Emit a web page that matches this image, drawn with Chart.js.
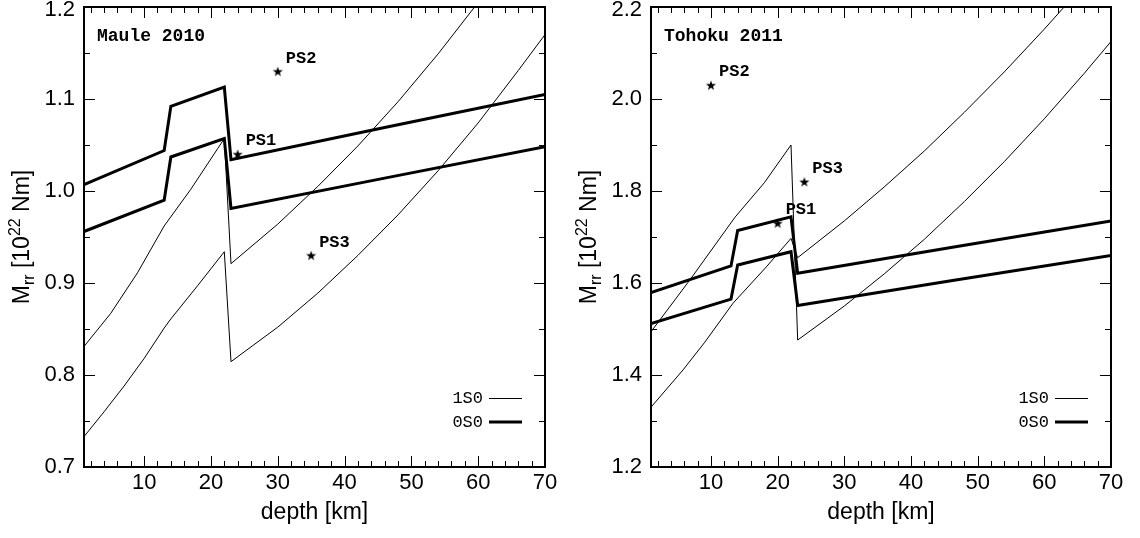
<!DOCTYPE html>
<html>
<head>
<meta charset="utf-8">
<script src="https://cdn.jsdelivr.net/npm/chart.js@4.4.1/dist/chart.umd.min.js"></script>
<style>
html, body { margin: 0; padding: 0; background: #fff; }
#conteneur { display: flex; width: 1140px; height: 538px; }
canvas { display: block; }
</style>
</head>
<body>
<div id="conteneur">
<canvas id="maule" width="570" height="538"></canvas>
<canvas id="tohoku" width="570" height="538"></canvas>
</div>
<script>
// Valeurs (profondeur en km, moment Mrr en 10^22 Nm)

// ---- Maule 2010 ----
const mauleProf1S0Haut = [1, 5, 9, 13, 17, 21, 22, 23, 30, 36, 42, 48, 54, 60, 62];
const mauleVal1S0Haut = [0.831, 0.867, 0.911, 0.962, 1.002, 1.046, 1.057, 0.921, 0.964, 1.005, 1.049, 1.097, 1.149, 1.205, 1.224];
const mauleProf1S0Bas = [1, 4, 7, 10, 13, 14, 18, 22, 23, 30, 36, 42, 48, 54, 60, 66, 70];
const mauleVal1S0Bas = [0.733, 0.760, 0.788, 0.818, 0.851, 0.861, 0.897, 0.934, 0.8145, 0.852, 0.889, 0.930, 0.974, 1.022, 1.074, 1.131, 1.170];
const mauleProf0S0Haut = [1, 13, 14, 22, 23, 46, 70];
const mauleVal0S0Haut = [1.007, 1.044, 1.092, 1.113, 1.034, 1.069, 1.105];
const mauleProf0S0Bas = [1, 13, 14, 22, 23, 46, 70];
const mauleVal0S0Bas = [0.956, 0.990, 1.037, 1.057, 0.981, 1.014, 1.048];
const mauleEtoilesProf = [24, 30, 35];
const mauleEtoilesVal = [1.04, 1.13, 0.93];
const mauleEtoilesNom = ['PS1', 'PS2', 'PS3'];

// ---- Tohoku 2011 ----
const tohokuProf1S0Haut = [1, 7, 13.6, 18, 22, 23, 30, 36, 42, 48, 54, 60, 66, 70];
const tohokuVal1S0Haut = [1.494, 1.610, 1.743, 1.818, 1.900, 1.476, 1.550, 1.620, 1.695, 1.777, 1.864, 1.957, 2.056, 2.125];
const tohokuProf1S0Bas = [1, 5.8, 9, 13.3, 18.3, 22, 23, 30, 36, 42, 48, 54, 60, 66];
const tohokuVal1S0Bas = [1.330, 1.411, 1.470, 1.556, 1.635, 1.697, 1.655, 1.735, 1.809, 1.887, 1.971, 2.059, 2.152, 2.249];
const tohokuProf0S0Haut = [1, 13, 14, 22, 23, 46, 70];
const tohokuVal0S0Haut = [1.579, 1.637, 1.714, 1.744, 1.621, 1.677, 1.735];
const tohokuProf0S0Bas = [1, 13, 14, 22, 23, 46, 70];
const tohokuVal0S0Bas = [1.512, 1.565, 1.639, 1.668, 1.551, 1.605, 1.660];
const tohokuEtoilesProf = [20, 10, 24];
const tohokuEtoilesVal = [1.73, 2.03, 1.82];
const tohokuEtoilesNom = ['PS1', 'PS2', 'PS3'];

// Graduations
const graduationsX = [10, 20, 30, 40, 50, 60, 70];
const graduationsMauleY = [0.7, 0.8, 0.9, 1.0, 1.1, 1.2];
const graduationsTohokuY = [1.2, 1.4, 1.6, 1.8, 2.0, 2.2];
const legendeNoms = ['1S0', '0S0'];

const POLICE = '"Liberation Sans", Arial, sans-serif';
const MONO = '"Liberation Mono", "Courier New", monospace';


function creerEtoile() {
    /**
     * Dessine une étoile pleine à 5 branches dans un petit canvas (utilisé comme pointStyle)
     */
    const c = document.createElement('canvas');
    c.width = 12;
    c.height = 12;
    const g = c.getContext('2d');
    const R = 5.3, r = 2.1;
    g.beginPath();
    for (let i = 0; i < 10; i++) {
        const rayon = i % 2 === 0 ? R : r;
        const angle = -Math.PI / 2 + i * Math.PI / 5;
        g.lineTo(6 + rayon * Math.cos(angle), 6.5 + rayon * Math.sin(angle));
    }
    g.closePath();
    g.fillStyle = '#000';
    g.fill();
    return c;
}

const etoile = creerEtoile();


function serie(prof, val, epaisseur) {
    return {
        data: prof.map((d, i) => ({ x: d, y: val[i] })),
        borderColor: '#000',
        borderWidth: epaisseur,
        borderJoinStyle: 'miter',
        pointRadius: 0,
        tension: 0,
        fill: false,
        clip: 0,
    };
}


// Cadre, graduations intérieures, textes et légende
const habillage = {
    id: 'habillage',
    afterDatasetsDraw(chart, args, opts) {
        const { ctx, chartArea: a, scales } = chart;
        const sx = scales.x, sy = scales.y;
        ctx.save();
        ctx.strokeStyle = '#000';
        ctx.fillStyle = '#000';

        // graduations en x (mineures tous les 2 km)
        ctx.lineWidth = 1;
        ctx.beginPath();
        for (let d = 2; d < 70; d += 2) {
            const px = Math.round(sx.getPixelForValue(d)) + 0.5;
            const l = d % 10 === 0 ? 11 : 6;
            ctx.moveTo(px, a.bottom); ctx.lineTo(px, a.bottom - l);
            ctx.moveTo(px, a.top); ctx.lineTo(px, a.top + l);
        }
        // graduations en y
        const n = Math.round((sy.max - sy.min) / opts.pasMineur);
        for (let i = 1; i < n; i++) {
            const py = Math.round(sy.getPixelForValue(sy.min + i * opts.pasMineur)) + 0.5;
            const l = i % 2 === 0 ? 11 : 6;
            ctx.moveTo(a.left, py); ctx.lineTo(a.left + l, py);
            ctx.moveTo(a.right, py); ctx.lineTo(a.right - l, py);
        }
        ctx.stroke();

        // cadre
        ctx.lineWidth = 2;
        ctx.strokeRect(a.left, a.top, a.right - a.left, a.bottom - a.top);

        // étiquettes des graduations
        ctx.font = '22px ' + POLICE;
        ctx.textBaseline = 'middle';
        ctx.textAlign = 'right';
        opts.graduationsY.forEach(v => {
            const py = Math.max(sy.getPixelForValue(v), 10);
            ctx.fillText(v.toFixed(1), a.left - 9, py);
        });
        ctx.textAlign = 'center';
        graduationsX.forEach(v => {
            ctx.fillText(String(v), sx.getPixelForValue(v), a.bottom + 16);
        });

        // titre de l'axe x
        ctx.font = '23px ' + POLICE;
        ctx.fillText('depth [km]', (a.left + a.right) / 2, 513);

        // titre de l'axe y : M_rr [10^22 Nm]
        ctx.save();
        ctx.translate(a.left - 63, (a.top + a.bottom) / 2);
        ctx.rotate(-Math.PI / 2);
        const morceaux = [
            { t: 'M', f: '23px ', dy: 0 },
            { t: 'rr', f: '16px ', dy: 5 },
            { t: ' [10', f: '23px ', dy: 0 },
            { t: '22', f: '16px ', dy: -9 },
            { t: ' Nm]', f: '23px ', dy: 0 },
        ];
        let total = 0;
        morceaux.forEach(m => { ctx.font = m.f + POLICE; m.w = ctx.measureText(m.t).width; total += m.w; });
        let cx = -total / 2;
        ctx.textAlign = 'left';
        ctx.textBaseline = 'alphabetic';
        morceaux.forEach(m => {
            ctx.font = m.f + POLICE;
            ctx.fillText(m.t, cx, 8 + m.dy);
            cx += m.w;
        });
        ctx.restore();

        // nom du séisme
        ctx.textAlign = 'left';
        ctx.textBaseline = 'middle';
        ctx.font = 'bold 18px ' + MONO;
        ctx.fillText(opts.titre, a.left + 13, 36);

        // noms des étoiles
        ctx.font = 'bold 17px ' + MONO;
        opts.etoilesNom.forEach((nom, i) => {
            const px = sx.getPixelForValue(opts.etoilesProf[i]);
            const py = sy.getPixelForValue(opts.etoilesVal[i]);
            ctx.fillText(nom, px + 8, py - 13);
        });

        // légende
        ctx.font = '17px ' + MONO;
        ctx.textAlign = 'right';
        legendeNoms.forEach((nom, i) => {
            const py = a.bottom - 69 + i * 24;
            ctx.fillText(nom, a.right - 62, py);
            ctx.lineWidth = i === 0 ? 1 : 3;
            ctx.beginPath();
            ctx.moveTo(a.right - 56, py + (i === 0 ? 0.5 : 0));
            ctx.lineTo(a.right - 23, py + (i === 0 ? 0.5 : 0));
            ctx.stroke();
        });
        ctx.restore();
    },
};


function creerGraphique(id, courbes, etoiles, yMin, yMax, options, padding) {
    /**
     * @param {string} id - identifiant du canvas
     * @param {object[]} courbes - jeux de données des courbes 1S0 et 0S0
     * @param {object} etoiles - points PS1, PS2, PS3
     */
    new Chart(document.getElementById(id), {
        type: 'line',
        data: {
            datasets: [
                ...courbes,
                {
                    data: etoiles.prof.map((d, i) => ({ x: d, y: etoiles.val[i] })),
                    showLine: false,
                    pointStyle: etoile,
                    pointRadius: 6,
                    clip: false,
                },
            ],
        },
        options: {
            responsive: false,
            animation: false,
            devicePixelRatio: 1,
            layout: { padding: padding },
            scales: {
                x: { type: 'linear', min: 1, max: 70, display: false },
                y: { type: 'linear', min: yMin, max: yMax, display: false },
            },
            plugins: {
                legend: { display: false },
                tooltip: { enabled: false },
                habillage: options,
            },
        },
        plugins: [habillage],
    });
}


creerGraphique('maule', [
    serie(mauleProf1S0Haut, mauleVal1S0Haut, 1),
    serie(mauleProf1S0Bas, mauleVal1S0Bas, 1),
    serie(mauleProf0S0Haut, mauleVal0S0Haut, 3),
    serie(mauleProf0S0Bas, mauleVal0S0Bas, 3),
], { prof: mauleEtoilesProf, val: mauleEtoilesVal }, 0.7, 1.2, {
    titre: 'Maule 2010',
    pasMineur: 0.05,
    graduationsY: graduationsMauleY,
    etoilesProf: mauleEtoilesProf,
    etoilesVal: mauleEtoilesVal,
    etoilesNom: mauleEtoilesNom,
}, { left: 84, right: 25, top: 7, bottom: 71 });

creerGraphique('tohoku', [
    serie(tohokuProf1S0Haut, tohokuVal1S0Haut, 1),
    serie(tohokuProf1S0Bas, tohokuVal1S0Bas, 1),
    serie(tohokuProf0S0Haut, tohokuVal0S0Haut, 3),
    serie(tohokuProf0S0Bas, tohokuVal0S0Bas, 3),
], { prof: tohokuEtoilesProf, val: tohokuEtoilesVal }, 1.2, 2.2, {
    titre: 'Tohoku 2011',
    pasMineur: 0.1,
    graduationsY: graduationsTohokuY,
    etoilesProf: tohokuEtoilesProf,
    etoilesVal: tohokuEtoilesVal,
    etoilesNom: tohokuEtoilesNom,
}, { left: 81, right: 29, top: 7, bottom: 71 });
</script>
</body>
</html>
